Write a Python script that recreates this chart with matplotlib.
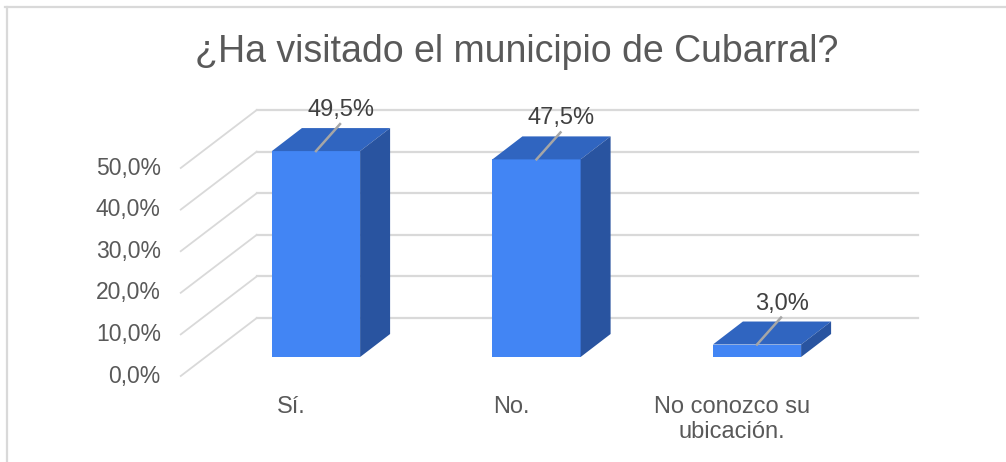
import matplotlib
matplotlib.use("Agg")
import matplotlib.pyplot as plt
from matplotlib.patches import Polygon
from matplotlib.lines import Line2D

plt.rcParams["font.family"] = ["Liberation Sans", "DejaVu Sans"]

categories = ["Sí.", "No.", "No conozco su\nubicación."]
values = [49.5, 47.5, 3.0]
value_labels = ["49,5%", "47,5%", "3,0%"]
ticks = [0, 10, 20, 30, 40, 50]
tick_labels = ["0,0%", "10,0%", "20,0%", "30,0%", "40,0%", "50,0%"]
title = "¿Ha visitado el municipio de Cubarral?"

FRONT = "#4285F4"
TOP = "#3065C0"
SIDE = "#2954A0"
GRID = "#D9D9D9"
TEXT = "#595959"

W, H = 1006, 462
fig = plt.figure(figsize=(W / 100, H / 100), dpi=100)
ax = fig.add_axes([0, 0, 1, 1])

# pixel scale of the bar plane: one category step, one percent point
px_cat, px_pct = 220.5, 4.16
x0_px, y0_px = 316, H - 357
ax.set_xlim(-x0_px / px_cat, (W - x0_px) / px_cat)
ax.set_ylim(-y0_px / px_pct, (H - y0_px) / px_pct)
ax.axis("off")

# oblique projection offsets (data units)
bar_w = 0.4
bar_dx, bar_dy = 30 / px_cat, 23 / px_pct
front_dx, front_dy = -25 / px_cat, -19 / px_pct
back_dx, back_dy = 51 / px_cat, 39 / px_pct
left, right = -0.5, len(categories) - 0.5

# gridlines: diagonal on the side wall + horizontal on the back wall
for t, lab in zip(ticks, tick_labels):
    ax.plot([left + front_dx, left + back_dx], [t + front_dy, t + back_dy],
            color=GRID, lw=1.3, zorder=1)
    ax.plot([left + back_dx, right + back_dx], [t + back_dy, t + back_dy],
            color=GRID, lw=1.6, zorder=1)
    ax.text(left + front_dx - 20 / px_cat, t + front_dy, lab, ha="right",
            va="center", fontsize=16.5, color=TEXT)

xs = list(range(len(categories)))
ax.bar(xs, values, width=bar_w, color=FRONT, zorder=3)
for x, v, lab, cat in zip(xs, values, value_labels, categories):
    l, r = x - bar_w / 2, x + bar_w / 2
    ax.add_patch(Polygon([(l, v), (r, v), (r + bar_dx, v + bar_dy),
                          (l + bar_dx, v + bar_dy)], closed=True,
                         facecolor=TOP, edgecolor="none", zorder=3))
    ax.add_patch(Polygon([(r, 0), (r, v), (r + bar_dx, v + bar_dy),
                          (r + bar_dx, bar_dy)], closed=True,
                         facecolor=SIDE, edgecolor="none", zorder=3))
    # leader line and value label
    ax.plot([x, x + 24 / px_cat], [v, v + 27 / px_pct], color="#A6A6A6",
            lw=1.8, zorder=4)
    ax.text(x + 25 / px_cat, v + 41 / px_pct, lab, ha="center", va="center",
            fontsize=17, color="#404040", zorder=5)
    ax.text(x + front_dx, front_dy - 20 / px_pct, cat, ha="center", va="top",
            fontsize=17, color=TEXT, linespacing=1.15)

ax.text(0.514, 1 - 52 / H, title, transform=fig.transFigure, ha="center",
        va="center", fontsize=27, color=TEXT)

# chart frame (top and left edges)
fig.add_artist(Line2D([5 / W, 1], [1 - 7 / H, 1 - 7 / H], transform=fig.transFigure,
                      color=GRID, lw=1.6))
fig.add_artist(Line2D([7 / W, 7 / W], [0, 1 - 7 / H], transform=fig.transFigure,
                      color=GRID, lw=1.6))

fig.savefig("out.png", dpi=100, facecolor="white")
